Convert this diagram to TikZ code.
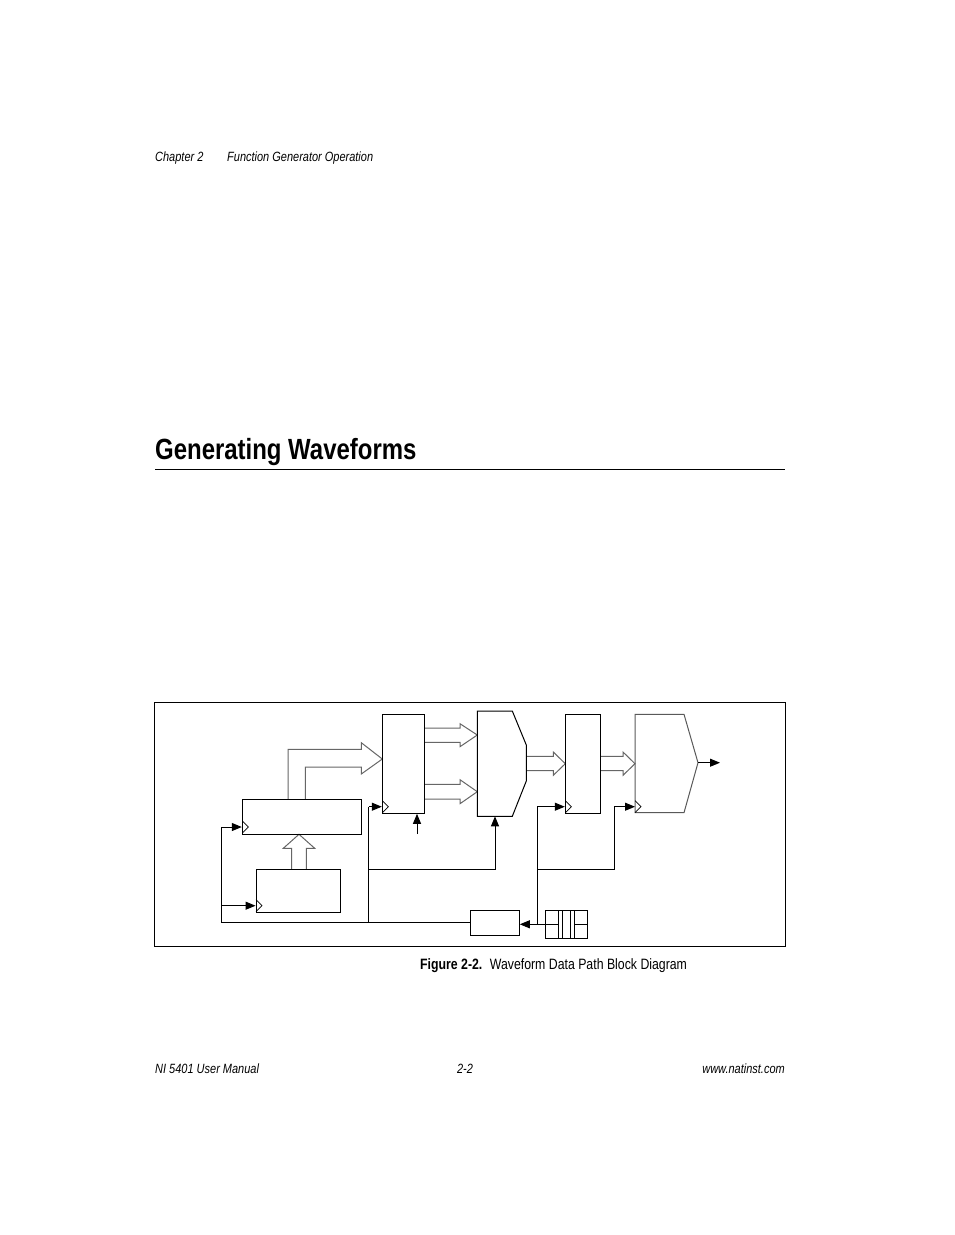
\documentclass[tikz,border=0pt]{standalone}
\usepackage{fontspec}
\setmainfont{Liberation Sans}[FakeStretch=0.82]
\usetikzlibrary{arrows.meta}
\begin{document}
\begin{tikzpicture}[x=1pt,y=-1pt,
  blk/.style={draw,line width=1pt},
  wire/.style={line width=1pt},
  arr/.style={wire,-{Triangle[length=10pt,width=8pt]}},
  fat/.style={draw=gray!80!black,line width=1pt,fill=white},
  clk/.style={line width=0.7pt},
  sm/.style={font=\itshape\fontsize{13.4}{15}\selectfont,inner sep=0pt}]
\path[use as bounding box] (0,0) rectangle (954,1235);
% header/footer
\node[anchor=base west,sm] (h1) at (155,161) {Chapter 2};
\node[anchor=base west,sm] (h2) at (227,161) {Function Generator Operation};
\node[anchor=base west,font=\bfseries\fontsize{29.2}{34}\selectfont,inner sep=0pt] (title) at (155,459) {Generating Waveforms};
\draw[line width=0.8pt] (155,469) -- (785,469);
\node[anchor=base west,font=\fontsize{15}{17}\selectfont,inner sep=0pt] (cap) at (420,969) {\textbf{Figure 2-2.}\enspace Waveform Data Path Block Diagram};
\node[anchor=base west,sm] (f1) at (155,1073) {NI 5401 User Manual};
\node[anchor=base,sm] (f2) at (465,1073) {2-2};
\node[anchor=base east,sm] (f3) at (785,1073) {www.natinst.com};
% frame
\draw[line width=1pt] (154.5,702.5) rectangle (785.5,946);
% fat arrows
\draw[fat] (288,799.3) -- (288,749.3) -- (361.3,749.3) -- (361.3,742.7) -- (382.3,759) -- (361.3,774) -- (361.3,767) -- (305.3,767) -- (305.3,799.3);
\draw[fat] (424.3,728) -- (460,728) -- (460,723.7) -- (477.3,735) -- (460,746.7) -- (460,742.3) -- (424.3,742.3);
\draw[fat] (424.3,784.3) -- (460,784.3) -- (460,779.7) -- (477.3,791.7) -- (460,803.7) -- (460,799) -- (424.3,799);
\draw[fat] (526.3,756.3) -- (553.3,756.3) -- (553.3,752) -- (565.3,763.7) -- (553.3,775.3) -- (553.3,770.7) -- (526.3,770.7);
\draw[fat] (600.3,756.3) -- (623,756.3) -- (623,752) -- (635,763.7) -- (623,775.3) -- (623,770.7) -- (600.3,770.7);
\draw[fat] (291.7,869.3) -- (291.7,848.3) -- (283.3,848.3) -- (299,834.3) -- (314.7,848.3) -- (306.3,848.3) -- (306.3,869.3);
% blocks
\node[blk,minimum width=119pt,minimum height=35pt,inner sep=0pt] (A) at (301.8,816.8) {};
\node[blk,minimum width=84.3pt,minimum height=43pt,inner sep=0pt] (B) at (298.2,890.8) {};
\node[blk,minimum width=42pt,minimum height=99pt,inner sep=0pt] (C) at (403.3,763.8) {};
\draw[blk,fill=white] (477.3,711) -- (512.3,711) -- (526.3,745) -- (526.3,781) -- (512.3,816.3) -- (477.3,816.3) -- cycle;
\coordinate (mux) at (495,816.3);
\node[blk,minimum width=35pt,minimum height=99pt,inner sep=0pt] (D) at (582.8,763.8) {};
\draw[blk,draw=gray!70!black] (635,714.3) -- (684,714.3) -- (698,762.7) -- (684,812.7) -- (635,812.7) -- cycle;
\coordinate (dac) at (698,762.7);
\coordinate (out) at (720,762.7);
\node[blk,minimum width=49pt,minimum height=24.6pt,inner sep=0pt] (E) at (494.8,923) {};
\node[blk,minimum width=41.7pt,minimum height=28pt,inner sep=0pt] (F) at (566.2,924.7) {};
\draw[clk] (558.7,910.7) -- (558.7,938.7) (562,910.7) -- (562,938.7) (570.7,910.7) -- (570.7,938.7) (574.3,910.7) -- (574.3,938.7);
\draw[clk] (545.3,924.3) -- (558.7,924.3) (574.3,924.3) -- (587,924.3);
% clock chevrons
\foreach \x/\y in {242.3/827, 256/905.7, 382.3/806.7, 565.3/806.7, 635/806.7}
  \draw[clk] (\x,\y-6) -- (\x+6,\y) -- (\x,\y+6);
% wires
\draw[arr] (dac) -- (out);
\draw[wire] (E.west |- 0,922.3) -- (221.7,922.3) -- (221.7,827);
\draw[arr] (221.7,827) -- (A.west |- 0,827);
\draw[arr] (221.7,905.7) -- (B.west |- 0,905.7);
\draw[wire] (368.7,922.3) -- (368.7,806.7);
\draw[arr] (368.7,806.7) -- (C.west |- 0,806.7);
\draw[arr] (368.7,869.3) -- (495,869.3) -- (mux);
\draw[arr] (417,834) -- (C.south -| 417,0);
\draw[arr] (F.west |- 0,924.3) -- (E.east |- 0,924.3);
\draw[wire] (537.3,924.3) -- (537.3,806.7);
\draw[arr] (537.3,806.7) -- (D.west |- 0,806.7);
\draw[wire] (537.3,869.3) -- (614.3,869.3) -- (614.3,806.7);
\draw[arr] (614.3,806.7) -- (635,806.7);
\end{tikzpicture}
\end{document}
